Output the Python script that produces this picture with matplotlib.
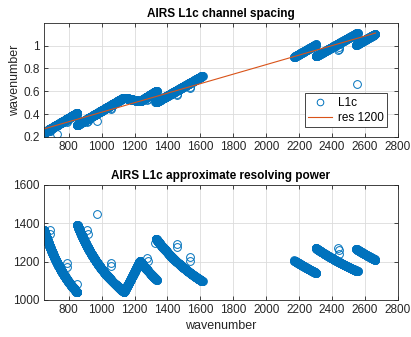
import matplotlib
matplotlib.use("Agg")
import matplotlib.pyplot as plt
import numpy as np

plt.rcParams['font.family'] = ['Liberation Sans', 'DejaVu Sans']

# L1c channel grid, one entry per detector module:
# wavenumber range and channel spacing at both ends
seg_lo = [650, 852, 1136, 1232, 1330, 2170, 2300, 2545]
seg_hi = [852, 1136, 1232, 1335, 1614, 2305, 2557, 2665]
dv_lo = [0.238, 0.306, 0.545, 0.512, 0.504, 0.900, 0.905, 1.005]
dv_hi = [0.410, 0.545, 0.512, 0.604, 0.736, 1.011, 1.113, 1.103]

# odd channels at module edges (fill / overlap channels)
odd_wn = [686, 688, 727, 788, 789, 852, 913, 915, 974, 1055, 1057, 1273,
          1280, 1324, 1456, 1458, 1537, 1539, 2437, 2440, 2443, 2553]
odd_dv = [0.251, 0.256, 0.224, 0.331, 0.336, 0.393, 0.335, 0.340, 0.337,
          0.442, 0.450, 0.523, 0.533, 0.510, 0.564, 0.572, 0.629, 0.640,
          0.958, 0.968, 0.985, 0.666]

res_nominal = 1200

# build the channel centres by stepping through each module
wn, dv = [], []
for lo, hi, d0, d1 in zip(seg_lo, seg_hi, dv_lo, dv_hi):
    v = lo
    while v <= hi:
        d = d0 + (d1 - d0) * (v - lo) / (hi - lo)
        wn.append(v)
        dv.append(d)
        v += d
wn = np.array(wn + odd_wn)
dv = np.array(dv + odd_dv)
order = np.argsort(wn)
wn, dv = wn[order], dv[order]

res = wn / (2 * dv)
wn_line = np.array([wn.min(), wn.max()])
dv_line = wn_line / (2 * res_nominal)

blue = '#0072BD'
red = '#D95319'
dark = '#262626'

fig = plt.figure(figsize=(4.11, 3.37), dpi=100)
ax1 = fig.add_axes([0.107, 0.5935, 0.861, 0.339])
ax2 = fig.add_axes([0.107, 0.1098, 0.861, 0.3422])

def style(ax):
    ax.grid(True, color='#dcdcdc', linewidth=0.6)
    ax.set_axisbelow(True)
    ax.tick_params(direction='in', length=3, width=0.6, labelsize=8.5,
                   colors=dark, top=True, right=True, pad=3)
    for s in ax.spines.values():
        s.set_color(dark)
        s.set_linewidth(0.6)
    ax.set_xlim(650, 2800)
    ax.set_xticks(np.arange(800, 2801, 200))

ax1.plot(wn, dv, 'o', mfc='none', mec=blue, ms=5.6, mew=0.7, label='L1c')
ax1.plot(wn_line, dv_line, '-', color=red, lw=0.8, label='res 1200')
style(ax1)
ax1.set_ylim(0.2, 1.2)
ax1.set_yticks([0.2, 0.4, 0.6, 0.8, 1.0])
ax1.set_yticklabels(['0.2', '0.4', '0.6', '0.8', '1'])
ax1.set_ylabel('wavenumber', fontsize=9, color=dark, labelpad=2)
ax1.set_title('AIRS L1c channel spacing', fontsize=8.5, fontweight='bold',
              color='black', pad=4)
leg = ax1.legend(loc='lower right', bbox_to_anchor=(0.97, 0.085), fontsize=8.5,
                 fancybox=False, edgecolor=dark, framealpha=1, markerscale=0.85,
                 handlelength=2.0, handletextpad=0.5, borderpad=0.3,
                 labelspacing=0.25, borderaxespad=0)
leg.get_frame().set_linewidth(0.6)

ax2.plot(wn, res, 'o', mfc='none', mec=blue, ms=5.6, mew=0.7)
style(ax2)
ax2.set_ylim(1000, 1600)
ax2.set_yticks([1000, 1200, 1400, 1600])
ax2.set_xlabel('wavenumber', fontsize=9, color=dark, labelpad=3)
ax2.set_title('AIRS L1c approximate resolving power', fontsize=8.5,
              fontweight='bold', color='black', pad=4)

fig.savefig('out.png', dpi=100, facecolor='white')
